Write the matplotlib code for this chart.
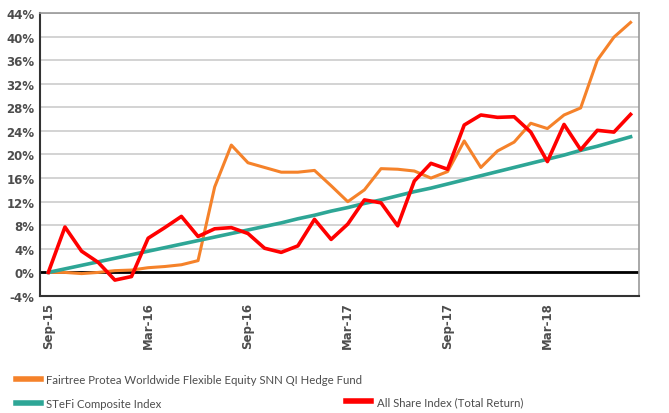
import matplotlib.pyplot as plt

months = ["Sep-15", "Oct-15", "Nov-15", "Dec-15", "Jan-16", "Feb-16", "Mar-16", "Apr-16", "May-16",
          "Jun-16", "Jul-16", "Aug-16", "Sep-16", "Oct-16", "Nov-16", "Dec-16", "Jan-17", "Feb-17",
          "Mar-17", "Apr-17", "May-17", "Jun-17", "Jul-17", "Aug-17", "Sep-17", "Oct-17", "Nov-17",
          "Dec-17", "Jan-18", "Feb-18", "Mar-18", "Apr-18", "May-18", "Jun-18", "Jul-18", "Aug-18"]

fairtree = [0.0, 0.0, -0.2, 0.0, 0.3, 0.4, 0.8, 1.0, 1.3, 2.0, 14.5, 21.6, 18.6, 17.8, 17.0, 17.0,
            17.3, 14.7, 12.0, 14.0, 17.6, 17.5, 17.2, 16.0, 17.1, 22.3, 17.8, 20.6, 22.1, 25.3,
            24.4, 26.7, 27.9, 36.0, 39.9, 42.4]
stefi = [0.0, 0.6, 1.2, 1.8, 2.4, 3.0, 3.6, 4.2, 4.8, 5.4, 6.0, 6.6, 7.2, 7.8, 8.4, 9.1, 9.7, 10.4,
         11.0, 11.7, 12.3, 13.0, 13.7, 14.3, 15.0, 15.7, 16.4, 17.1, 17.8, 18.5, 19.2, 19.9, 20.7,
         21.4, 22.2, 23.0]
alsi = [0.0, 7.7, 3.6, 1.7, -1.3, -0.7, 5.8, 7.6, 9.5, 6.1, 7.4, 7.6, 6.6, 4.1, 3.4, 4.5, 9.0, 5.6,
        8.2, 12.3, 11.8, 7.9, 15.5, 18.5, 17.5, 25.0, 26.7, 26.3, 26.4, 23.8, 18.8, 25.1, 20.8,
        24.1, 23.8, 26.8]

yticks = list(range(-4, 45, 4))

c_orange = "#F5822A"
c_teal = "#2EA696"
c_red = "#FF0000"
c_text = "#4D4D4D"

fig = plt.figure(figsize=(6.69, 4.14), dpi=100)
ax = fig.add_axes([0.0598, 0.2826, 0.8952, 0.6836])

x = list(range(len(months)))
ax.set_axisbelow(True)
ax.yaxis.grid(True, color="#CCCCCC", lw=1.2)
ax.axhline(0, color="black", lw=2, zorder=2)
l1, = ax.plot(x, fairtree, color=c_orange, lw=2.2, zorder=3)
l2, = ax.plot(x, stefi, color=c_teal, lw=2.6, zorder=3)
l3, = ax.plot(x, alsi, color=c_red, lw=2.6, zorder=4)

ax.set_xlim(-0.5, len(months) - 0.5)
ax.set_ylim(-4, 44)
ax.set_yticks(yticks)
ax.set_yticklabels([f"{v}%" for v in yticks], fontsize=8.5, fontweight="bold", color=c_text,
                   family="DejaVu Sans")
ax.set_xticks(x[::6])
ax.set_xticklabels(months[::6], rotation=90, fontsize=8.5, fontweight="bold", color=c_text,
                   family="DejaVu Sans")
ax.tick_params(length=0, pad=4)

for s in ["top", "right"]:
    ax.spines[s].set_color("#999999")
    ax.spines[s].set_linewidth(1.2)
for s in ["left", "bottom"]:
    ax.spines[s].set_color("#333333")
    ax.spines[s].set_linewidth(1.5)

leg_font = {"family": ["Lato", "DejaVu Sans"], "size": 8.2}
leg1 = fig.legend([l1, l2], ["Fairtree Protea Worldwide Flexible Equity SNN QI Hedge Fund",
                             "STeFi Composite Index"],
                  loc="upper left", bbox_to_anchor=(0.008, 0.119), frameon=False,
                  prop=leg_font, handlelength=2.2, handletextpad=0.5, labelspacing=1.15,
                  labelcolor=c_text)
for h in leg1.legend_handles:
    h.set_linewidth(4)
leg2 = fig.legend([l3], ["All Share Index (Total Return)"],
                  loc="upper left", bbox_to_anchor=(0.502, 0.066), frameon=False,
                  prop=leg_font, handlelength=2.2, handletextpad=0.5, labelcolor=c_text)
for h in leg2.legend_handles:
    h.set_linewidth(4)

fig.savefig("out.png", dpi=100)
